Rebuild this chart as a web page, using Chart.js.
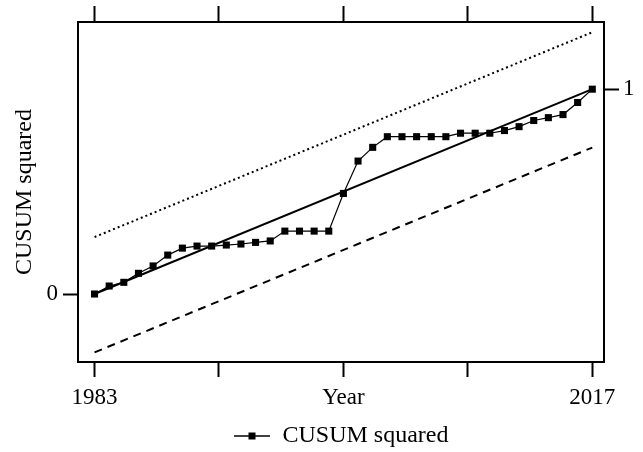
<!DOCTYPE html>
<html>
<head>
<meta charset="utf-8">
<script src="https://cdn.jsdelivr.net/npm/chart.js@4.4.0/dist/chart.umd.min.js"></script>
<style>
  html, body { margin: 0; padding: 0; background: #fff; }
  #wrap { width: 643px; height: 452px; }
</style>
</head>
<body>
<div id="wrap"><canvas id="myChart"></canvas></div>
<script>
// Data
const years = [1983, 1984, 1985, 1986, 1987, 1988, 1989, 1990, 1991, 1992,
               1993, 1994, 1995, 1996, 1997, 1998, 1999, 2000, 2001, 2002,
               2003, 2004, 2005, 2006, 2007, 2008, 2009, 2010, 2011, 2012,
               2013, 2014, 2015, 2016, 2017];
const cusumSq = [0, 0.039, 0.057, 0.101, 0.137, 0.19, 0.224, 0.234, 0.234, 0.239,
                 0.244, 0.252, 0.259, 0.307, 0.307, 0.307, 0.307, 0.491, 0.649, 0.716,
                 0.768, 0.768, 0.768, 0.768, 0.768, 0.785, 0.785, 0.785, 0.798, 0.817,
                 0.847, 0.861, 0.876, 0.935, 1.0];
const lineYears = [1983, 2017];
const expectedLine = [0, 1];
const upperBound = [0.278, 1.278];
const lowerBound = [-0.285, 0.715];
const xTickValues = [1983, 1991.5, 2000, 2008.5, 2017];
const xTickLabels = ['1983', '', 'Year', '', '2017'];

const FONT_FAMILY = '"Liberation Serif", "Times New Roman", serif';
const W = 643, H = 452;

function pts(xs, ys) {
    return xs.map((x, i) => ({ x: x, y: ys[i] }));
}
function font(size) {
    return { family: FONT_FAMILY, size: size };
}
function tickGrid(len) {
    return {
        display: true,
        drawOnChartArea: false,
        drawTicks: true,
        tickLength: len,
        tickWidth: 2,
        tickColor: '#000',
        color: '#000'
    };
}
function axisBorder() {
    return { display: true, color: '#000', width: 2 };
}

// legend icon: line with a square marker
const legendIcon = document.createElement('canvas');
legendIcon.width = 36;
legendIcon.height = 10;
const g = legendIcon.getContext('2d');
g.strokeStyle = '#000';
g.lineWidth = 1.5;
g.beginPath(); g.moveTo(0, 5); g.lineTo(36, 5); g.stroke();
g.fillStyle = '#000';
g.fillRect(14.5, 1.5, 7, 7);

const config = {
    type: 'line',
    data: {
        datasets: [{
            label: 'CUSUM squared',
            data: pts(years, cusumSq),
            borderColor: '#000',
            backgroundColor: '#000',
            borderWidth: 1.2,
            pointStyle: 'rect',
            pointRadius: 5,
            pointBorderWidth: 0,
            pointBackgroundColor: '#000',
            tension: 0
        }, {
            label: 'expected',
            data: pts(lineYears, expectedLine),
            borderColor: '#000',
            borderWidth: 2,
            pointRadius: 0
        }, {
            label: 'upper',
            data: pts(lineYears, upperBound),
            borderColor: '#000',
            borderWidth: 2,
            borderDash: [2, 3],
            pointRadius: 0
        }, {
            label: 'lower',
            data: pts(lineYears, lowerBound),
            borderColor: '#000',
            borderWidth: 2,
            borderDash: [8, 6],
            pointRadius: 0
        }]
    },
    options: {
        responsive: true,
        maintainAspectRatio: false,
        animation: false,
        events: [],
        layout: { padding: 0 },
        scales: {
            x: {
                type: 'linear',
                position: 'bottom',
                min: 1981.87,
                max: 2017.8,
                afterBuildTicks: s => { s.ticks = xTickValues.map(v => ({ value: v })); },
                afterFit: s => { s.height = 52; },
                ticks: {
                    color: '#000',
                    font: font(23),
                    padding: 7,
                    maxRotation: 0,
                    autoSkip: false,
                    callback: (v, i) => xTickLabels[i]
                },
                grid: tickGrid(15),
                border: axisBorder()
            },
            x2: {
                type: 'linear',
                position: 'top',
                min: 1981.87,
                max: 2017.8,
                afterBuildTicks: s => { s.ticks = xTickValues.map(v => ({ value: v })); },
                afterFit: s => { s.height = 22; },
                ticks: { display: false },
                grid: tickGrid(16),
                border: axisBorder()
            },
            y: {
                type: 'linear',
                position: 'left',
                min: -0.332,
                max: 1.328,
                afterBuildTicks: s => { s.ticks = [{ value: 0 }]; },
                afterFit: s => { s.width = 78; },
                ticks: { color: '#000', font: font(23), padding: 5, callback: v => String(v) },
                grid: tickGrid(15),
                border: axisBorder(),
                title: {
                    display: true,
                    text: 'CUSUM squared',
                    color: '#000',
                    font: font(24),
                    padding: { top: 10, bottom: 0 }
                }
            },
            y2: {
                type: 'linear',
                position: 'right',
                min: -0.332,
                max: 1.328,
                afterBuildTicks: s => { s.ticks = [{ value: 1 }]; },
                afterFit: s => { s.width = W - 604; },
                ticks: { color: '#000', font: font(23), padding: 4, callback: v => String(v) },
                grid: tickGrid(15),
                border: axisBorder()
            }
        },
        plugins: {
            tooltip: { enabled: false },
            legend: {
                display: true,
                position: 'bottom',
                fullSize: false,
                maxHeight: 38,
                labels: {
                    color: '#000',
                    font: font(24),
                    padding: 10,
                    usePointStyle: true,
                    pointStyleWidth: 37,
                    generateLabels: () => [{
                        text: 'CUSUM squared',
                        pointStyle: legendIcon,
                        fillStyle: '#000',
                        strokeStyle: '#000',
                        lineWidth: 0,
                        fontColor: '#000',
                        hidden: false,
                        datasetIndex: 0
                    }]
                }
            }
        }
    }
};

// Create chart
new Chart(document.getElementById('myChart'), config);
</script>
</body>
</html>
